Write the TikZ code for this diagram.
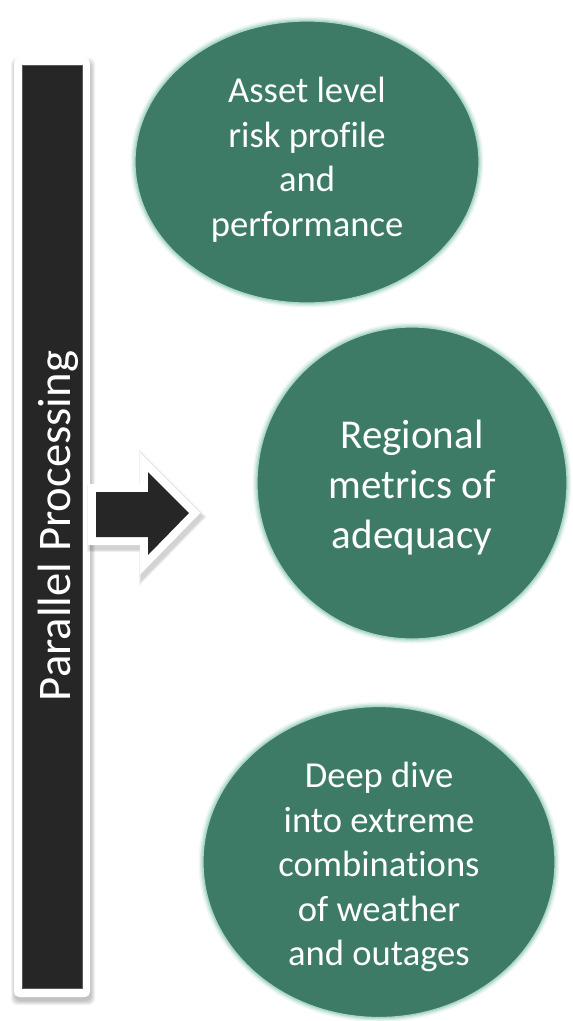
\documentclass[tikz,border=0pt]{standalone}
\usepackage{fontspec}
\setmainfont{Carlito}[Ligatures=CommonOff]
\usetikzlibrary{shapes.geometric}
\definecolor{tgreen}{HTML}{3D7B66}
\definecolor{tglow}{HTML}{A9D6C6}
\definecolor{tdark}{HTML}{262626}
\tikzset{
  bubble/.style={ellipse, fill=tgreen, inner sep=0pt,
    draw=tglow, line width=1.2pt,
    preaction={draw=tglow, line width=9pt, opacity=0.18},
    preaction={draw=tglow, line width=6pt, opacity=0.3},
    preaction={draw=tglow, line width=3.5pt, opacity=0.5}},
  ctext/.style={text=white, align=center, inner sep=0pt},
  shadowlayer/.style={fill=black, opacity=0.05, rounded corners=6pt},
}
\begin{document}
\begin{tikzpicture}[x=1pt, y=-1pt]
\useasboundingbox[fill=white] (0,0) rectangle (573,1021);
% bar shadow
\foreach \d in {0,1,2,3,4}{
  \fill[shadowlayer] (14-\d+1,58-\d+4) rectangle (90+\d+1,997+\d+4);
}
% bar frame
\fill[white, rounded corners=5pt] (14,58) rectangle (90,997);
\node[fill=tdark, draw=black!65, line width=0.7pt, minimum width=60pt, minimum height=923pt, inner sep=0pt, anchor=north west] (bar) at (22,65) {};
\node[rotate=90, anchor=base, text=white, inner sep=0pt, font=\fontsize{46.7}{56}\selectfont] (pp) at (70,526) {Parallel Processing};
% arrow shadow
\foreach \d in {1,2,3}{
  \draw[black, opacity=0.06, line width={16+2*\d}, line join=miter, fill=black]
    (96+2,492+4) -- (148+2,492+4) -- (148+2,472+4) -- (189+2,513+4) -- (148+2,555+4) -- (148+2,537+4) -- (96+2,537+4) -- cycle;
}
% arrow
\draw[white, line width=16pt, line join=miter, fill=white]
  (96,492) -- (148,492) -- (148,472) -- (189,513) -- (148,555) -- (148,537) -- (96,537) -- cycle;
\fill[tdark] (96,492) -- (148,492) -- (148,472) -- (189,513) -- (148,555) -- (148,537) -- (96,537) -- cycle;
% bubbles
\node[bubble, minimum width=344pt, minimum height=282pt] (c1) at (307,162) {};
\node[bubble, minimum width=310pt, minimum height=312pt] (c2) at (412,483) {};
\node[bubble, minimum width=352pt, minimum height=311pt] (c3) at (379,862) {};
\node[ctext, font=\fontsize{36.6}{44.5}\selectfont] (t1) at (307,159.5) {Asset level\\risk profile\\and\\performance};
\node[ctext, font=\fontsize{41}{50}\selectfont] (t2) at (412,488) {Regional\\metrics of\\adequacy};
\node[ctext, font=\fontsize{36.6}{44.5}\selectfont] (t3) at (379,867) {Deep dive\\into extreme\\combinations\\of weather\\and outages};
\end{tikzpicture}
\end{document}
